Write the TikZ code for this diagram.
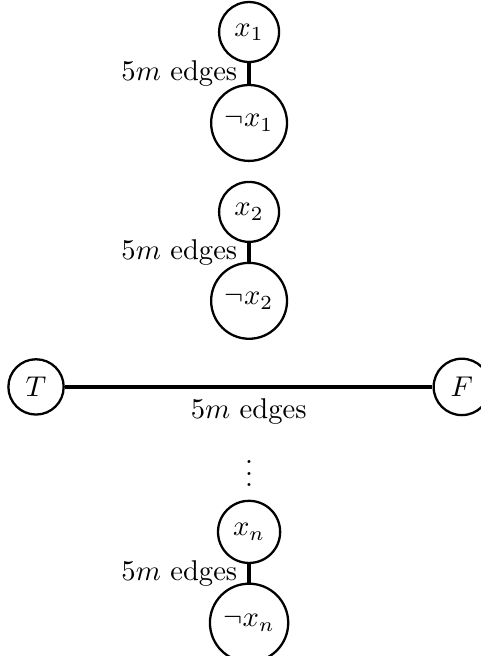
\documentclass[tikz,border=0pt]{standalone}
\usepackage{tikz}
\usepackage{amsmath}
\begin{document}
\begin{tikzpicture}[line join=bevel,
        varnode/.style={shape=circle, draw=black, line width=0.8pt},
        bigedge/.style={line width=1.6pt}]
        \useasboundingbox (0pt, 0pt) rectangle (168.2pt, -229.4pt);
        % Variable pairs
        \foreach \i/\ytop/\ybot in {1/-11.2pt/-43.0pt, 2/-74.1pt/-105.2pt, n/-186.0pt/-217.8pt} {
          \node[varnode] (x\i) at (87.1pt, \ytop) {$x_\i$};
          \node[varnode] (nx\i) at (87.1pt, \ybot) {$\neg x_\i$};
          \draw[bigedge] (x\i) -- (nx\i) node[midway, left] {$5m$ edges};
        }
        % Truth nodes
        \node[varnode] (T) at (12.6pt, -135.3pt) {$T$};
        \node[varnode] (F) at (161.5pt, -135.3pt) {$F$};
        \draw[bigedge] (T) -- (F) node[midway, below] {$5m$ edges};
        \node (dots) at (87.1pt, -162.6pt) {$\vdots$};
\end{tikzpicture}
\end{document}
